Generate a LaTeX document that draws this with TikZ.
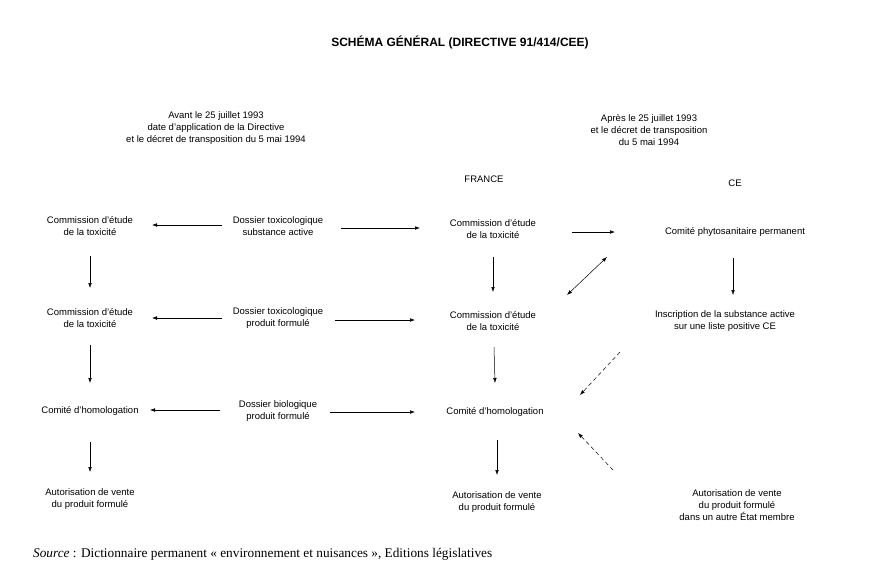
\documentclass[tikz,border=0pt]{standalone}
\usepackage{fontspec}
\setmainfont{Liberation Sans}
\newfontfamily\sourcefont{Liberation Serif}
\usetikzlibrary{arrows.meta, positioning}

\begin{document}
\begin{tikzpicture}[x=1pt, y=1pt, on grid,
    box/.style={align=center, font=\fontsize{9.5}{12}\selectfont, inner sep=2pt},
    arr/.style={-{Latex[length=5pt,width=3.6pt]}, line width=0.5pt},
    twoarr/.style={{Latex[length=5pt,width=3.6pt]}-{Latex[length=5pt,width=3.6pt]}, line width=0.5pt},
    dasharr/.style={arr, dash pattern=on 4pt off 3pt}]
    \useasboundingbox (0,0) rectangle (873,-574);

    % Headings
    \node[font=\bfseries\fontsize{12}{14}\selectfont] (title) at (460,-42) {SCHÉMA GÉNÉRAL (DIRECTIVE 91/414/CEE)};
    \node[box] (avant) at (216,-128) {Avant le 25 juillet 1993\\date d'application de la Directive\\et le décret de transposition du 5 mai 1994};
    \node[box] (apres) at (649,-130) {Après le 25 juillet 1993\\et le décret de transposition\\du 5 mai 1994};
    \node[box] (france) at (484,-179) {FRANCE};
    \node[box] (ce) at (735,-183) {CE};

    % Before 1993
    \node[box] (ctoxA) at (90,-226) {Commission d'étude\\de la toxicité};
    \node[box, below=92pt of ctoxA] (ctoxB) {Commission d'étude\\de la toxicité};
    \node[box, below=93pt of ctoxB] (homolA) {Comité d'homologation};
    \node[box, below=88pt of homolA] (autoA) {Autorisation de vente\\du produit formulé};

    % Dossiers
    \node[box, right=188pt of ctoxA] (dsub) {Dossier toxicologique\\substance active};
    \node[box, right=188pt of ctoxB] (dprod) {Dossier toxicologique\\produit formulé};
    \node[box, right=188pt of homolA] (dbio) {Dossier biologique\\produit formulé};

    % France
    \node[box, right=215pt of dsub, yshift=-3pt] (ctoxF) {Commission d'étude\\de la toxicité};
    \node[box, below=92pt of ctoxF] (ctoxG) {Commission d'étude\\de la toxicité};
    \node[box, below=91pt of ctoxG, xshift=2pt] (homolF) {Comité d'homologation};
    \node[box, below=90pt of homolF, xshift=2pt] (autoF) {Autorisation de vente\\du produit formulé};

    % CE
    \node[box, right=242pt of ctoxF, yshift=-3pt] (phyto) {Comité phytosanitaire permanent};
    \node[box, below=89pt of phyto, xshift=-10pt] (inscr) {Inscription de la substance active\\sur une liste positive CE};
    \node[box] (autoCE) at (737,-505) {Autorisation de vente\\du produit formulé\\dans un autre État membre};

    % Source
    \node[anchor=west, inner sep=0pt, font=\sourcefont\fontsize{13.3}{15}\selectfont] (source) at (33,-554)
        {\textit{Source} : Dictionnaire permanent « environnement et nuisances », Editions législatives};

    % Dossiers to commissions
    \path[arr]
        ([xshift=-56pt,yshift=1pt]dsub.center) edge ([xshift=62pt,yshift=1pt]ctoxA.center)
        ([xshift=63pt,yshift=-2pt]dsub.center) edge ([xshift=-73pt,yshift=1pt]ctoxF.center)
        ([xshift=-56pt]dprod.center) edge ([xshift=62pt]ctoxB.center)
        ([xshift=57pt,yshift=-2pt]dprod.center) edge ([xshift=-78pt,yshift=1pt]ctoxG.center)
        ([xshift=-58pt,yshift=1pt]dbio.center) edge ([xshift=60pt,yshift=1pt]homolA.center)
        ([xshift=52pt,yshift=-1pt]dbio.center) edge ([xshift=-80pt]homolF.center);

    % Vertical steps
    \path[arr]
        ([yshift=-30pt]ctoxA.center) edge ([yshift=30pt]ctoxB.center)
        ([yshift=-27pt]ctoxB.center) edge ([yshift=28pt]homolA.center)
        ([yshift=-31pt]homolA.center) edge ([yshift=27pt]autoA.center)
        ([yshift=-28pt]ctoxF.center) edge ([yshift=29pt]ctoxG.center)
        ([xshift=1pt,yshift=-26pt]ctoxG.center) edge ([yshift=29pt]homolF.center)
        ([xshift=2pt,yshift=-28pt]homolF.center) edge ([yshift=27pt]autoF.center)
        ([xshift=-2pt,yshift=-26pt]phyto.center) edge ([xshift=8pt,yshift=26pt]inscr.center);

    % France and CE
    \draw[arr] ([xshift=79pt,yshift=-3pt]ctoxF.center) -- ([xshift=-120pt]phyto.center);
    \draw[twoarr] ([xshift=74pt,yshift=26pt]ctoxG.center) -- ([xshift=-128pt,yshift=-25pt]phyto.center);
    \draw[dasharr] ([xshift=-105pt,yshift=-31pt]inscr.center) -- ([xshift=85pt,yshift=17pt]homolF.center);
    \draw[dasharr] ([xshift=-124pt,yshift=35pt]autoCE.center) -- ([xshift=83pt,yshift=-21pt]homolF.center);
\end{tikzpicture}
\end{document}
